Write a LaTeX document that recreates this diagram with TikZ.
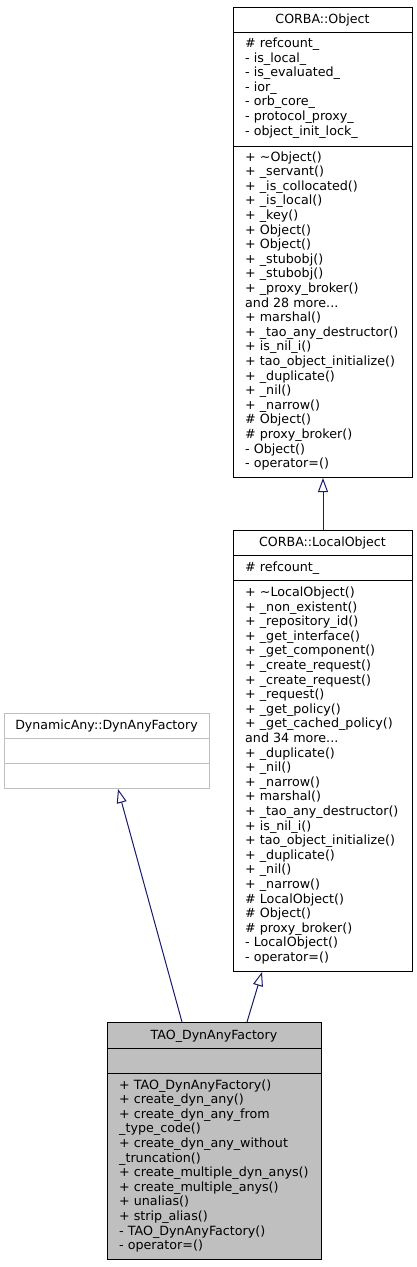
\documentclass[tikz,border=0pt]{standalone}
\usepackage{fontspec}
\setmainfont{DejaVu Sans}
\usetikzlibrary{arrows.meta,calc}
\definecolor{arrowblue}{HTML}{191970}
\definecolor{boxgray}{HTML}{BFBFBF}
\newcommand\tdots{...}
\newcommand\seclines[4]{%
  \foreach \t [count=\i from 0] in {#4} {\node[txt] (#1\i) at (#2,{#3+\i*14.6}) {\t};}}
\begin{document}
\begin{tikzpicture}[x=1pt,y=-1pt,
  sec/.style={draw=black, line width=1pt, inner sep=0pt, anchor=north west, minimum width=179pt},
  secl/.style={draw=boxgray, line width=1pt, inner sep=0pt, anchor=north west, minimum width=205pt},
  sect/.style={draw=black, fill=boxgray, line width=1pt, inner sep=0pt, anchor=north west, minimum width=214pt},
  txt/.style={anchor=base west, inner sep=0pt, font=\fontsize{12.7}{14.6}\selectfont},
  ttl/.style={anchor=base, inner sep=0pt, font=\fontsize{12.6}{14.6}\selectfont},
  inh/.style={draw=arrowblue, line width=1pt, -{Triangle[open, length=14pt, width=10pt]}}]
\fill[white] (0,0) rectangle (417,1267);
\useasboundingbox (0,0) rectangle (417,1267);
% CORBA::Object
\node[sec, minimum height=25pt] (objt) at (233,7) {};
\node[sec, minimum height=114pt] (obja) at (233,32) {};
\node[sec, minimum height=331pt] (objm) at (233,146) {};
\node[ttl] (objname) at (322.5,23) {CORBA::Object};
\seclines{oa}{245}{47.5}{\#~refcount\_, - is\_local\_, - is\_evaluated\_, - ior\_, - orb\_core\_, - protocol\_proxy\_, - object\_init\_lock\_}
\seclines{om}{245}{161}{+ \textasciitilde Object(), + \_servant(), + \_is\_collocated(), + \_is\_local(), + \_key(), + Object(), + Object(), + \_stubobj(), + \_stubobj(), + \_proxy\_broker(), and 28 more\tdots, + marshal(), + \_tao\_any\_destructor(), + is\_nil\_i(), + tao\_object\_initialize(), + \_duplicate(), + \_nil(), + \_narrow(), \#~Object(), \#~proxy\_broker(), - Object(), - operator=()}
% CORBA::LocalObject
\node[sec, minimum height=25pt] (lot) at (233,530) {};
\node[sec, minimum height=25pt] (loa) at (233,555) {};
\node[sec, minimum height=391pt] (lom) at (233,580) {};
\node[ttl] (loname) at (322.5,546) {CORBA::LocalObject};
\seclines{la}{245}{571}{\#~refcount\_}
\seclines{lm}{245}{596.5}{+ \textasciitilde LocalObject(), + \_non\_existent(), + \_repository\_id(), + \_get\_interface(), + \_get\_component(), + \_create\_request(), + \_create\_request(), + \_request(), + \_get\_policy(), + \_get\_cached\_policy(), and 34 more\tdots, + \_duplicate(), + \_nil(), + \_narrow(), + marshal(), + \_tao\_any\_destructor(), + is\_nil\_i(), + tao\_object\_initialize(), + \_duplicate(), + \_nil(), + \_narrow(), \#~LocalObject(), \#~Object(), \#~proxy\_broker(), - LocalObject(), - operator=()}
% DynamicAny::DynAnyFactory
\node[secl, minimum height=25pt] (dynt) at (4,713) {};
\node[secl, minimum height=25pt] (dyna) at (4,738) {};
\node[secl, minimum height=25pt] (dynm) at (4,763) {};
\node[ttl] (dynname) at (106.5,729.5) {DynamicAny::DynAnyFactory};
% TAO_DynAnyFactory
\node[sect, minimum height=26pt] (taot) at (107,1022) {};
\node[sect, minimum height=25pt] (taoa) at (107,1048) {};
\node[sect, minimum height=186pt] (taom) at (107,1073) {};
\node[ttl] (taoname) at (214,1039) {TAO\_DynAnyFactory};
\seclines{tm}{119}{1089}{+ TAO\_DynAnyFactory(), + create\_dyn\_any(), + create\_dyn\_any\_from, \_type\_code(), + create\_dyn\_any\_without, \_truncation(), + create\_multiple\_dyn\_anys(), + create\_multiple\_anys(), + unalias(), + strip\_alias(), - TAO\_DynAnyFactory(), - operator=()}
% inheritance
\draw[inh] (lot.north) -- (objm.south);
\draw[inh] ($(taot.north west)+(75,0)$) -- ($(dynm.south west)+(114,0)$);
\draw[inh] ($(taot.north west)+(140,0)$) -- ($(lom.south west)+(29,0)$);
\end{tikzpicture}
\end{document}
